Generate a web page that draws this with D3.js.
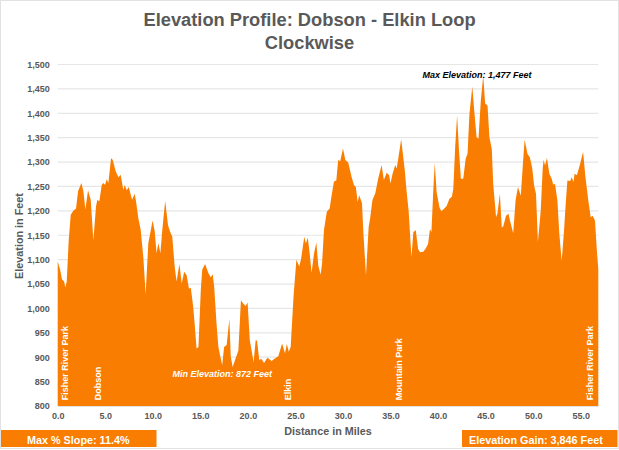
<!DOCTYPE html>
<html lang="en">
    <head>
        <meta charset="utf-8">
        <title>Elevation Profile</title>
        <script src="https://d3js.org/d3.v7.min.js"></script>
        <style>
            body {
                margin: 0;
                background-color: #FFFFFF;
            }

            svg {
                display: block;
                font-family: "Liberation Sans", Arial, sans-serif;
            }

            .tick text {
                font-size: 9px;
                font-weight: bold;
                fill: #595959;
            }
        </style>
    </head>
    <body>
        <svg id="chart"></svg>

        <script>
            //data
            const miles = [0, 0.25, 0.45, 0.67, 0.8, 0.95, 1.16, 1.37, 1.65, 1.93, 2.14, 2.49, 2.7, 2.91, 3.19, 3.47, 3.75, 4.03, 4.17, 4.38,
                4.63, 4.8, 4.98, 5.15, 5.33, 5.61, 5.78, 6.1, 6.38, 6.62, 6.9, 7.05, 7.26, 7.47, 7.82, 8.1, 8.24, 8.48, 8.73, 9.0,
                9.25, 9.53, 9.77, 9.98, 10.2, 10.4, 10.58, 10.8, 11.0, 11.3, 11.6, 11.8, 12.05, 12.3, 12.5, 12.8, 13.04, 13.3, 13.56, 13.8,
                14.0, 14.25, 14.4, 14.6, 14.8, 15.05, 15.2, 15.5, 15.85, 16.1, 16.3, 16.46, 16.7, 16.9, 17.07, 17.3, 17.5, 17.77, 18.05, 18.2,
                18.4, 18.64, 19.0, 19.27, 19.5, 19.76, 19.97, 20.2, 20.6, 20.82, 20.96, 21.2, 21.4, 21.7, 22.05, 22.5, 22.8, 23.2, 23.6, 23.9,
                24.1, 24.3, 24.5, 24.8, 25.1, 25.4, 25.6, 25.93, 26.1, 26.3, 26.5, 26.7, 26.95, 27.2, 27.4, 27.65, 27.8, 28.0, 28.3, 28.6,
                28.75, 29.05, 29.3, 29.5, 29.7, 30.0, 30.25, 30.55, 30.9, 31.15, 31.35, 31.55, 31.7, 32.0, 32.15, 32.42, 32.7, 32.85, 33.1, 33.4,
                33.7, 34.06, 34.3, 34.6, 34.85, 35.0, 35.2, 35.5, 35.65, 35.9, 36.12, 36.5, 36.7, 36.9, 37.2, 37.4, 37.65, 37.9, 38.1, 38.45,
                38.7, 38.95, 39.15, 39.3, 39.5, 39.65, 39.85, 40.15, 40.35, 40.6, 40.9, 41.2, 41.45, 41.6, 41.8, 42.0, 42.2, 42.4, 42.65, 42.9,
                43.1, 43.3, 43.6, 43.8, 44.05, 44.25, 44.5, 44.75, 44.95, 45.2, 45.4, 45.65, 45.8, 46.1, 46.25, 46.5, 46.7, 46.85, 47.15, 47.4,
                47.6, 47.9, 48.15, 48.4, 48.7, 48.9, 49.1, 49.4, 49.65, 49.9, 50.1, 50.3, 50.5, 50.8, 51.0, 51.1, 51.25, 51.45, 51.7, 51.95,
                52.1, 52.3, 52.55, 52.75, 53.0, 53.25, 53.4, 53.6, 53.9, 54.05, 54.25, 54.35, 54.6, 54.95, 55.25, 55.5, 55.8, 56.05, 56.25, 56.5,
                56.7, 56.85];

            const elevation = [1096, 1080, 1060, 1055, 1043, 1055, 1140, 1192, 1200, 1205, 1240, 1257, 1240, 1203, 1242, 1223, 1139, 1209, 1223, 1219,
                1253, 1257, 1253, 1265, 1257, 1308, 1305, 1281, 1269, 1274, 1243, 1253, 1242, 1249, 1223, 1235, 1219, 1185, 1161, 1106,
                1029, 1134, 1158, 1180, 1158, 1113, 1134, 1113, 1161, 1220, 1171, 1158, 1147, 1086, 1055, 1091, 1051, 1075, 1068, 1041,
                1042, 1003, 969, 918, 921, 1038, 1080, 1091, 1072, 1064, 1070, 1044, 969, 921, 904, 884, 921, 925, 979, 901,
                880, 894, 914, 1017, 1010, 1005, 1012, 935, 890, 935, 934, 894, 897, 888, 899, 892, 897, 902, 928, 908,
                927, 911, 921, 1024, 1100, 1086, 1102, 1147, 1133, 1145, 1112, 1073, 1112, 1135, 1088, 1069, 1092, 1160, 1198, 1205,
                1225, 1260, 1262, 1305, 1301, 1328, 1304, 1299, 1270, 1253, 1249, 1218, 1232, 1216, 1153, 1068, 1167, 1184, 1222, 1236,
                1266, 1294, 1263, 1278, 1273, 1256, 1275, 1294, 1287, 1318, 1347, 1283, 1238, 1201, 1105, 1156, 1161, 1122, 1115, 1116,
                1123, 1132, 1163, 1156, 1242, 1298, 1238, 1207, 1199, 1204, 1210, 1225, 1229, 1245, 1331, 1396, 1324, 1266, 1266, 1307,
                1317, 1399, 1455, 1406, 1351, 1348, 1427, 1477, 1420, 1416, 1351, 1327, 1255, 1187, 1195, 1235, 1166, 1168, 1190, 1194,
                1177, 1154, 1221, 1249, 1231, 1290, 1346, 1317, 1310, 1288, 1252, 1235, 1136, 1201, 1286, 1305, 1293, 1309, 1276, 1266,
                1254, 1255, 1221, 1153, 1097, 1160, 1208, 1262, 1261, 1269, 1259, 1276, 1273, 1297, 1321, 1269, 1221, 1187, 1190, 1180,
                1118, 1081];

            const xTicks = [0, 5, 10, 15, 20, 25, 30, 35, 40, 45, 50, 55];
            const yTicks = [800, 850, 900, 950, 1000, 1050, 1100, 1150, 1200, 1250, 1300, 1350, 1400, 1450, 1500];

            const placeNames = ["Fisher River Park", "Dobson", "Elkin", "Mountain Park", "Fisher River Park"];
            const placeMiles = [0.77, 4.2, 24.2, 35.9, 56.0];

            const titleLines = ["Elevation Profile: Dobson - Elkin Loop", "Clockwise"];

            //chart dimensions
            const width = 619;
            const height = 450;
            const margin = { top: 64.5, right: 20.7, bottom: 44, left: 57.7 };
            const orange = "#F87D00";
            const grey = "#595959";

            const svg = d3.select("#chart")
                .attr("width", width)
                .attr("height", height);

            //outer chart border
            svg.append("rect")
                .attr("x", 0.5)
                .attr("y", 0.5)
                .attr("width", width - 1)
                .attr("height", height - 2)
                .attr("fill", "none")
                .attr("stroke", "#E2E2E2");

            //x and y scale
            const xScale = d3.scaleLinear()
                .domain([0, 56.85])
                .range([margin.left, width - margin.right]);

            const yScale = d3.scaleLinear()
                .domain([800, 1500])
                .range([height - margin.bottom, margin.top]);

            //gridlines
            svg.append("g")
                .selectAll("line")
                .data(yTicks)
                .enter()
                .append("line")
                .attr("x1", xScale.range()[0])
                .attr("x2", xScale.range()[1])
                .attr("y1", d => yScale(d))
                .attr("y2", d => yScale(d))
                .attr("stroke", "#E6E6E6")
                .attr("stroke-width", 1.2);

            //elevation area
            const area = d3.area()
                .x(d => xScale(d[0]))
                .y0(yScale(800))
                .y1(d => yScale(d[1]));

            svg.append("path")
                .datum(d3.zip(miles, elevation))
                .attr("fill", orange)
                .attr("d", area);

            //x and y axis
            const xAxis = d3.axisBottom(xScale)
                .tickValues(xTicks)
                .tickFormat(d3.format(".1f"))
                .tickSize(0)
                .tickPadding(7);

            const yAxis = d3.axisLeft(yScale)
                .tickValues(yTicks)
                .tickFormat(d3.format(","))
                .tickSize(0)
                .tickPadding(8);

            svg.append("g")
                .attr("transform", `translate(0, ${yScale(800)})`)
                .call(xAxis)
                .call(g => g.select(".domain").attr("stroke", "#E2E2E2"));

            svg.append("g")
                .attr("transform", `translate(${margin.left}, 0)`)
                .call(yAxis)
                .call(g => g.select(".domain").remove());

            //title
            svg.append("g")
                .selectAll("text")
                .data(titleLines)
                .enter()
                .append("text")
                .attr("x", 309.5)
                .attr("y", (d, i) => 26 + i * 23)
                .attr("text-anchor", "middle")
                .attr("font-size", 18.3)
                .attr("font-weight", "bold")
                .attr("fill", grey)
                .text(d => d);

            //axis titles
            svg.append("text")
                .attr("x", 328)
                .attr("y", 435)
                .attr("text-anchor", "middle")
                .attr("font-size", 10.8)
                .attr("font-weight", "bold")
                .attr("fill", grey)
                .text("Distance in Miles");

            svg.append("text")
                .attr("transform", "translate(22.5, 236) rotate(-90)")
                .attr("text-anchor", "middle")
                .attr("font-size", 10.8)
                .attr("font-weight", "bold")
                .attr("fill", grey)
                .text("Elevation in Feet");

            //place names on the area
            svg.append("g")
                .selectAll("text")
                .data(d3.zip(placeNames, placeMiles))
                .enter()
                .append("text")
                .attr("transform", d => `translate(${xScale(d[1]) + 3.2}, ${yScale(812)}) rotate(-90)`)
                .attr("font-size", 9)
                .attr("font-weight", "bold")
                .attr("fill", "#FFFFFF")
                .text(d => d[0]);

            //min and max notes
            svg.append("text")
                .attr("x", xScale(17.3))
                .attr("y", yScale(859))
                .attr("text-anchor", "middle")
                .attr("font-size", 9)
                .attr("font-weight", "bold")
                .attr("font-style", "italic")
                .attr("fill", "#FFFFFF")
                .text("Min Elevation: 872 Feet");

            svg.append("text")
                .attr("x", xScale(44.1))
                .attr("y", yScale(1472))
                .attr("text-anchor", "middle")
                .attr("font-size", 9)
                .attr("font-weight", "bold")
                .attr("font-style", "italic")
                .attr("fill", "#000000")
                .text("Max Elevation: 1,477 Feet");

            //stat boxes
            const boxes = svg.append("g")
                .selectAll("g")
                .data([[1, 26, "Max % Slope: 11.4%"], [462, 7, "Elevation Gain: 3,846 Feet"]])
                .enter()
                .append("g")
                .attr("transform", d => `translate(${d[0]}, 430)`);

            boxes.append("rect")
                .attr("width", 155.5)
                .attr("height", 17)
                .attr("fill", orange);

            boxes.append("text")
                .attr("x", d => d[1])
                .attr("y", 14)
                .attr("font-size", 10.8)
                .attr("font-weight", "bold")
                .attr("fill", "#FFFFFF")
                .text(d => d[2]);
        </script>
    </body>
</html>
